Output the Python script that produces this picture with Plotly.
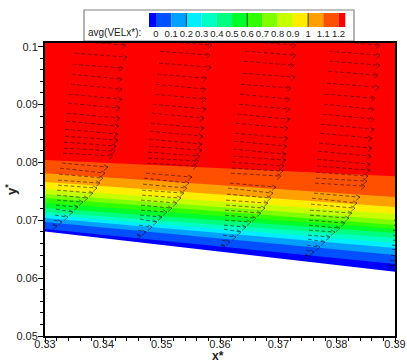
"""Velocity contour bands over a sloped wall, with vector stations and a level key."""

import plotly.graph_objects as go

# contour band edges read at the two sides of the plot, wall first
edge_left = [.06805, .06848, .06969, .07038, .07090, .07142, .07211, .07297,
             .07383, .07453, .07539, .07660, .07815, .08040]
edge_right = [.06111, .06244, .06399, .06520, .06606, .06693, .06779, .06848,
              .06917, .07003, .07107, .07228, .07401, .07763]
band_colors = ["#0000ff", "#0050ff", "#00a0ff", "#00eeff", "#00ffc4", "#00ff80", "#00ff2a",
               "#30ff00", "#80ff00", "#c8ff00", "#ffee00", "#ffa000", "#ff5000", "#ff0000"]

# vectors of the first station, top row first
tail_x = [.33566, .33549, .33549, .33531, .33514, .3348, .33463, .33446, .33411, .33394,
          .33377, .3336, .33343, .33343, .33326, .33326, .33309, .33291, .33257, .3324,
          .33223, .33223, .33206, .33206, .33206, .33189, .33189, .33171, .33154, .33137]
tail_y = [.10613, .10440, .10268, .10095, .09888, .09698, .09525, .09352, .09180, .09024,
          .08851, .08713, .08575, .08454, .08351, .08247, .08161, .07988, .07902, .07798,
          .07694, .07608, .07522, .07435, .07349, .07263, .07193, .07090, .07003, .06917]
tip_x = [.34423, .34423, .34423, .34389, .34406, .34337, .3432, .3432, .3432, .34286,
         .34286, .34269, .34251, .34251, .34217, .342, .34166, .3408, .34029, .33994,
         .33943, .33891, .33823, .33737, .33651, .33566, .3348, .33394, .33291, .33206]
tip_y = [.10544, .10371, .10199, .10026, .09819, .09629, .09439, .09266, .09093, .08938,
         .08765, .08627, .08489, .08385, .08282, .08195, .08109, .07919, .07815, .07729,
         .07642, .07556, .07470, .07383, .07314, .07228, .07142, .07055, .06969, .06900]
station_dx = [0, .0144, .0288, .0432, .0576]
station_dy = [0, -.00173, -.00346, -.00519, -.00692]

# level key
key_edges = [-.046, 0, .1, .2, .3, .4, .5, .6, .7, .8, .9, 1, 1.1, 1.2, 1.246]
key_ticks = [0, .1, .2, .3, .4, .5, .6, .7, .8, .9, 1, 1.1, 1.2]
key_labels = ["0", "0.1", "0.2", "0.3", "0.4", "0.5", "0.6", "0.7", "0.8", "0.9", "1", "1.1", "1.2"]
key_lines = [.2, .6, 1]

x_ticks = [.33, .34, .35, .36, .37, .38, .39]
x_labels = ["0.33", "0.34", "0.35", "0.36", "0.37", "0.38", "0.39"]
y_ticks = [.05, .06, .07, .08, .09, .1]
y_labels = ["0.05", "0.06", "0.07", "0.08", "0.09", "0.1"]

TEXT = "#222222"
FONT = "Liberation Sans"

fig = go.Figure()

# each band runs up to the plot top, the next one paints over it
for left, right, color in zip(edge_left, edge_right, band_colors):
    fig.add_trace(go.Scatter(x=[.33, .39, .39, .33], y=[left, right, .102, .102], mode="lines",
                             fill="toself", fillcolor=color, line=dict(width=0),
                             hoverinfo="skip", showlegend=False))

shafts_x, shafts_y, heads_x, heads_y = [], [], [], []
for dx, dy in zip(station_dx, station_dy):
    for x0, y0, x1, y1 in zip(tail_x, tail_y, tip_x, tip_y):
        shafts_x += [x0 + dx, x1 + dx, None]
        shafts_y += [y0 + dy, y1 + dy, None]
        heads_x += [x1 + dx - .0007, x1 + dx, x1 + dx - .0007, None]
        heads_y += [y1 + dy + .0004, y1 + dy, y1 + dy - .0006, None]

fig.add_trace(go.Scatter(x=shafts_x, y=shafts_y, mode="lines", hoverinfo="skip", showlegend=False,
                         line=dict(color="rgba(30,0,0,0.7)", width=0.8, dash="3.8px,2.5px")))
fig.add_trace(go.Scatter(x=heads_x, y=heads_y, mode="lines", hoverinfo="skip", showlegend=False,
                         line=dict(color="#1a0000", width=0.5)))

fig.add_trace(go.Bar(x=[b - a for a, b in zip(key_edges, key_edges[1:])], base=key_edges[:-1],
                     y=[0] * len(band_colors), orientation="h", width=1,
                     marker=dict(color=band_colors, line=dict(width=0)),
                     xaxis="x2", yaxis="y2", hoverinfo="skip", showlegend=False))
line_x, line_y = [], []
for v in key_lines:
    line_x += [v, v, None]
    line_y += [-.5, .5, None]
fig.add_trace(go.Scatter(x=line_x, y=line_y, mode="lines", line=dict(color="#111111", width=0.8),
                         xaxis="x2", yaxis="y2", hoverinfo="skip", showlegend=False))

axis_style = dict(showgrid=False, zeroline=False, showline=True, linecolor="black", linewidth=2,
                  mirror=True, ticks="outside", ticklen=5, tickwidth=1, tickcolor="black",
                  automargin=False, tickangle=0,
                  tickfont=dict(family=FONT, size=11, color=TEXT))
W, H = 407, 362
fig.update_layout(
    width=W, height=H, autosize=False,
    margin=dict(l=0, r=0, t=0, b=0),
    paper_bgcolor="white", plot_bgcolor="rgba(0,0,0,0)",
    barmode="overlay",
    xaxis=dict(axis_style, domain=[45 / W, 395 / W], range=[.33, .39],
               tickvals=x_ticks, ticktext=x_labels, ticklabelstandoff=-8,
               minor=dict(dtick=.002, tick0=.33, ticks="outside", ticklen=3, tickcolor="black"),
               anchor="y"),
    yaxis=dict(axis_style, domain=[1 - 336 / H, 1 - 43 / H], range=[.05, .10064],
               tickvals=y_ticks, ticktext=y_labels, ticklabelstandoff=-2,
               minor=dict(dtick=.002, tick0=.05, ticks="outside", ticklen=3, tickcolor="black"),
               anchor="x"),
    xaxis2=dict(domain=[149 / W, 345.5 / W], range=[-.046, 1.246], anchor="y2",
                tickvals=key_ticks, ticktext=key_labels, ticks="", showgrid=False, zeroline=False,
                showline=False, automargin=False, tickangle=0, ticklabelstandoff=-1,
                tickfont=dict(family=FONT, size=9.5, color=TEXT)),
    yaxis2=dict(domain=[1 - 27 / H, 1 - 13 / H], range=[-.5, .5], anchor="x2", visible=False,
                automargin=False),
    shapes=[dict(type="rect", xref="paper", yref="paper", x0=84 / W, x1=354 / W,
                 y0=1 - 41 / H, y1=1 - 10 / H, layer="below",
                 line=dict(color="#808080", width=1.2), fillcolor="white")],
    annotations=[
        dict(text="avg(VELx*):", xref="paper", yref="paper", x=143 / W, y=1 - 32 / H,
             xanchor="right", yanchor="middle", showarrow=False,
             font=dict(family=FONT, size=10, color=TEXT)),
        dict(text="<b>x*</b>", xref="paper", yref="paper", x=218 / W, y=1 - 356 / H,
             xanchor="center", yanchor="middle", showarrow=False,
             font=dict(family=FONT, size=12, color=TEXT)),
        dict(text="<b>y<sup>*</sup></b>", xref="paper", yref="paper", x=11 / W, y=1 - 190 / H,
             xanchor="center", yanchor="middle", showarrow=False, textangle=-90,
             font=dict(family=FONT, size=13, color=TEXT)),
    ],
)

# the page's default body margin would push the fixed-size figure off by 8px
fig.write_html("out.html", config=dict(displayModeBar=False),
               post_script="document.body.style.margin = '0';")
